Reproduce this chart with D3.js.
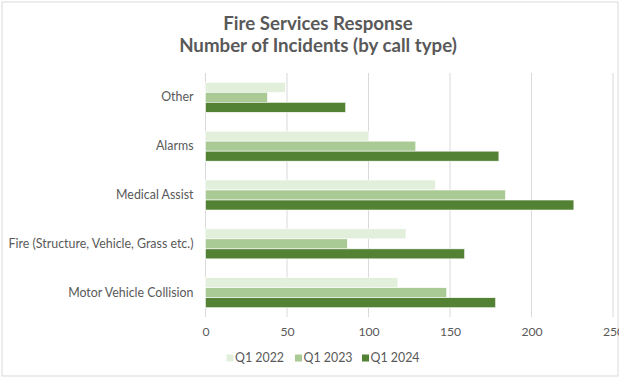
<!DOCTYPE html>
<html>
<head>
<meta charset="utf-8">
<script src="https://cdn.jsdelivr.net/npm/d3@7"></script>
<style>
  html, body { margin: 0; padding: 0; background: #fff; }
  svg { display: block; }
  text { font-family: Lato, "Open Sans", sans-serif; fill: #595959; }
</style>
</head>
<body>
<svg id="chart" width="619" height="378"></svg>
<script>
// Call types, top to bottom
const categories = ["Other", "Alarms", "Medical Assist", "Fire (Structure, Vehicle, Grass etc.)", "Motor Vehicle Collision"];
const seriesNames = ["Q1 2022", "Q1 2023", "Q1 2024"];
// Incident counts per call type, one array per quarter
const q1_2022 = [49, 100, 141, 123, 118];
const q1_2023 = [38, 129, 184, 87, 148];
const q1_2024 = [86, 180, 226, 159, 178];
const xTicks = [0, 50, 100, 150, 200, 250];
const colors = ["#E2EFDA", "#A9CA94", "#548235"];
const titleLines = ["Fire Services Response", "Number of Incidents (by call type)"];

const series = [q1_2022, q1_2023, q1_2024];
const svg = d3.select("#chart");

// Chart frame
svg.append("rect")
  .attr("x", 2).attr("y", 2).attr("width", 616).attr("height", 374)
  .attr("fill", "#fff").attr("stroke", "#d9d9d9").attr("stroke-width", 1);

// Title
svg.append("g").selectAll("text").data(titleLines).join("text")
  .attr("x", 318).attr("y", (d, i) => 30 + i * 22)
  .attr("text-anchor", "middle")
  .style("font-weight", "bold").style("font-size", "18.7px")
  .text(d => d);

const x = d3.scaleLinear().domain([0, 250]).range([205.5, 613]);
const y = d3.scaleBand().domain(categories).range([73, 317]).paddingInner(0.385).paddingOuter(0.19);
const ySub = d3.scaleBand().domain(seriesNames).range([0, y.bandwidth()]);

// Vertical gridlines
svg.append("g").selectAll("line").data(xTicks).join("line")
  .attr("x1", d => x(d)).attr("x2", d => x(d))
  .attr("y1", 73).attr("y2", 317)
  .attr("stroke", "#d9d9d9").attr("stroke-width", 1);

// Bars
const groups = svg.append("g").selectAll("g").data(categories).join("g")
  .attr("transform", c => `translate(0,${y(c)})`);
groups.selectAll("rect")
  .data((c, ci) => seriesNames.map((s, si) => ({ s, si, v: series[si][ci] })))
  .join("rect")
  .attr("x", x(0))
  .attr("y", d => ySub(d.s))
  .attr("width", d => x(d.v) - x(0))
  .attr("height", ySub.bandwidth())
  .attr("fill", d => colors[d.si])
  .attr("stroke", "#fff").attr("stroke-width", 0.6);

// Category axis labels
const yAxis = svg.append("g").attr("transform", `translate(${x(0)},0)`)
  .call(d3.axisLeft(y).tickSize(0).tickPadding(12));
yAxis.select(".domain").remove();
yAxis.selectAll("text").style("font-size", "12.4px").style("font-family", "Lato, sans-serif").attr("fill", "#595959");

// Value axis labels
const xAxis = svg.append("g").attr("transform", "translate(0,317)")
  .call(d3.axisBottom(x).tickValues(xTicks).tickSize(0).tickPadding(10));
xAxis.select(".domain").remove();
xAxis.selectAll("text").style("font-size", "12.2px").style("font-family", "Lato, sans-serif").attr("fill", "#595959");

// Legend
const legendX = [226.5, 295, 362];
const legend = svg.append("g").selectAll("g").data(seriesNames).join("g")
  .attr("transform", (d, i) => `translate(${legendX[i]},358)`);
legend.append("rect").attr("x", 0).attr("y", -3.5).attr("width", 7).attr("height", 7)
  .attr("fill", (d, i) => colors[i]);
legend.append("text").attr("x", 8.5).attr("dy", "0.35em")
  .style("font-size", "12.4px").text(d => d);
</script>
</body>
</html>
